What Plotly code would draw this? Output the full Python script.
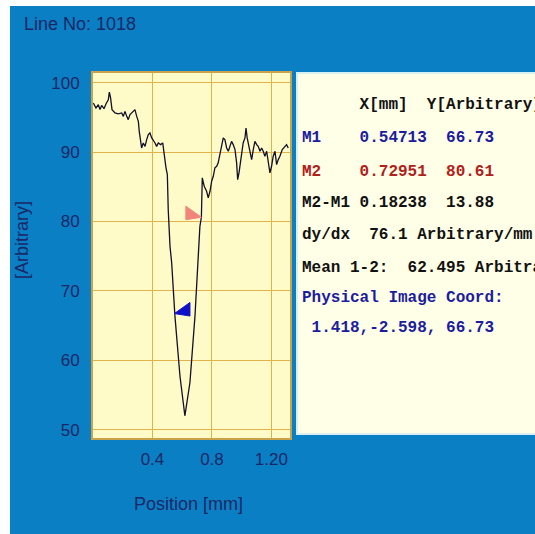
import plotly.graph_objects as go

# profile along the line (position in mm, intensity in arbitrary units)
pos_mm = [0.002, 0.020, 0.036, 0.047, 0.058, 0.074, 0.087, 0.103, 0.110, 0.118,
          0.128, 0.148, 0.170, 0.193, 0.204, 0.215, 0.227, 0.237, 0.249, 0.267,
          0.282, 0.294, 0.305, 0.311, 0.316, 0.327, 0.338, 0.350, 0.361, 0.372,
          0.383, 0.395, 0.417, 0.428, 0.439, 0.455, 0.469, 0.477, 0.491, 0.500,
          0.506, 0.518, 0.529, 0.551, 0.585, 0.618, 0.652, 0.686, 0.708, 0.719,
          0.729, 0.735, 0.748, 0.764, 0.775, 0.787, 0.798, 0.809, 0.820, 0.832,
          0.842, 0.854, 0.865, 0.876, 0.887, 0.899, 0.910, 0.921, 0.932, 0.943,
          0.955, 0.966, 0.973, 0.982, 0.988, 1.000, 1.010, 1.022, 1.029, 1.037,
          1.049, 1.057, 1.067, 1.078, 1.089, 1.101, 1.111, 1.123, 1.134, 1.145,
          1.156, 1.168, 1.178, 1.190, 1.201, 1.212, 1.224, 1.235, 1.246, 1.257,
          1.273, 1.291, 1.302, 1.313]
intensity = [97.08, 96.36, 96.83, 96.12, 96.73, 96.26, 96.94, 97.55, 98.66, 97.84,
             96.12, 95.64, 95.50, 95.64, 95.15, 95.87, 95.15, 94.68, 95.40, 95.78,
             96.12, 95.15, 94.43, 92.99, 92.04, 90.60, 91.32, 90.83, 91.80, 92.52,
             92.76, 92.04, 91.32, 90.83, 91.32, 91.08, 91.32, 89.88, 87.73, 86.76,
             81.70, 76.40, 74.10, 66.40, 57.70, 52.00, 56.80, 66.40, 74.10, 79.30,
             80.61, 86.29, 85.08, 84.36, 83.41, 84.36, 85.80, 86.52, 87.73, 87.96,
             88.45, 89.88, 91.08, 92.04, 91.80, 90.60, 90.12, 90.83, 91.55, 91.08,
             90.36, 88.45, 86.04, 87.01, 87.96, 89.40, 91.32, 92.04, 93.48, 92.04,
             90.83, 90.12, 88.92, 90.36, 91.55, 91.08, 90.83, 90.12, 90.60, 90.12,
             89.40, 90.12, 88.45, 87.01, 87.96, 89.40, 90.12, 88.20, 88.92, 89.40,
             90.36, 90.83, 91.08, 90.60]

m1 = (0.54713, 66.73)
m2 = (0.72951, 80.61)

x_ticks = [0.4, 0.8, 1.2]
x_tick_labels = ["0.4", "0.8", "1.20"]
y_ticks = [50, 60, 70, 80, 90, 100]

info_lines = [
    ("      X[mm]  Y[Arbitrary]", "#111111"),
    ("M1    0.54713  66.73", "#1c1ca0"),
    ("M2    0.72951  80.61", "#b0201c"),
    ("M2-M1 0.18238  13.88", "#111111"),
    ("dy/dx  76.1 Arbitrary/mm", "#111111"),
    ("Mean 1-2:  62.495 Arbitrary", "#111111"),
    ("Physical Image Coord:", "#1c1ca0"),
    (" 1.418,-2.598, 66.73", "#1c1ca0"),
]
info_rows_px = [105, 138, 172, 203, 235, 268, 298, 328]

W, H = 535, 534
L, R, T, B = 93, 290, 73, 438  # plot area in pixels


def px(x):
    return (x - L) / (R - L)


def py(y):
    return (B - y) / (B - T)


narrow = "Liberation Sans Narrow, Arial Narrow, Liberation Sans, sans-serif"
navy = "#1b2766"
blue_bg = "#0a7fc4"

fig = go.Figure()

fig.add_trace(go.Scatter(
    x=pos_mm, y=intensity, mode="lines",
    line=dict(color="#10102a", width=1.3),
    hoverinfo="skip", showlegend=False,
))

# marker flags: M1 points right-to-left into the curve, M2 the other way
dx, dy = 0.105, 1.6
fig.add_trace(go.Scatter(
    x=[m1[0], m1[0] + dx, m1[0] + dx, m1[0]],
    y=[m1[1], m1[1] + dy, m1[1] - 0.35, m1[1]],
    fill="toself", fillcolor="#1010c8", mode="lines",
    line=dict(color="#1010c8", width=1), showlegend=False, hoverinfo="skip",
))
fig.add_trace(go.Scatter(
    x=[m2[0], m2[0] - dx, m2[0] - dx, m2[0]],
    y=[m2[1], m2[1] + dy, m2[1] - 0.35, m2[1]],
    fill="toself", fillcolor="#f2857a", mode="lines",
    line=dict(color="#f2857a", width=1), showlegend=False, hoverinfo="skip",
))

shapes = [
    # blue frame background
    dict(type="rect", xref="paper", yref="paper", layer="below",
         x0=px(10), x1=px(W + 5), y0=py(H + 5), y1=py(6),
         fillcolor=blue_bg, line=dict(width=0)),
    # plot area fill (drawn over the blue frame)
    dict(type="rect", xref="paper", yref="paper", layer="below",
         x0=0, x1=1, y0=0, y1=1,
         fillcolor="#fffbc8", line=dict(width=0)),
    # readout panel
    dict(type="rect", xref="paper", yref="paper", layer="below",
         x0=px(297), x1=px(W + 10), y0=py(434), y1=py(73),
         fillcolor="#fffee6", line=dict(color="#d8f0f0", width=2)),
]

annotations = [
    dict(text="Line No: 1018", x=px(22), y=py(24), xref="paper", yref="paper",
         xanchor="left", yanchor="middle", showarrow=False,
         font=dict(family=narrow, size=18, color=navy)),
    dict(text="[Arbitrary]", x=px(22), y=py(240), xref="paper", yref="paper",
         xanchor="center", yanchor="middle", showarrow=False, textangle=-90,
         font=dict(family=narrow, size=18, color=navy)),
    dict(text="Position [mm]", x=px(188), y=py(504), xref="paper", yref="paper",
         xanchor="center", yanchor="middle", showarrow=False,
         font=dict(family=narrow, size=18, color=navy)),
]
for (txt, col), row in zip(info_lines, info_rows_px):
    annotations.append(dict(
        text="<b>" + txt.replace(" ", "&nbsp;") + "</b>",
        x=px(300), y=py(row), xref="paper", yref="paper",
        xanchor="left", yanchor="middle", showarrow=False,
        font=dict(family="Liberation Mono, Courier New, monospace", size=16, color=col),
    ))

fig.update_layout(
    width=W, height=H,
    margin=dict(l=L, r=W - R, t=T, b=H - B),
    paper_bgcolor="white",
    plot_bgcolor="#fffbc8",
    shapes=shapes,
    annotations=annotations,
    showlegend=False,
)
fig.update_xaxes(
    range=[0, 1.325], tickvals=x_ticks, ticktext=x_tick_labels,
    showgrid=True, gridcolor="#e0b44a", gridwidth=1.2,
    showline=True, linecolor="#caa24a", linewidth=2, mirror=True,
    zeroline=False, ticks="", ticklabelstandoff=5,
    tickfont=dict(family=narrow, size=17, color=navy),
)
fig.update_yaxes(
    range=[48.8, 101.4], tickvals=y_ticks,
    showgrid=True, gridcolor="#e0b44a", gridwidth=1.2,
    showline=True, linecolor="#caa24a", linewidth=2, mirror=True,
    zeroline=False, ticks="", ticklabelstandoff=8,
    tickfont=dict(family=narrow, size=17, color=navy),
)

fig.write_html("out.html", config={"displayModeBar": False},
               post_script="document.body.style.margin='0';")
